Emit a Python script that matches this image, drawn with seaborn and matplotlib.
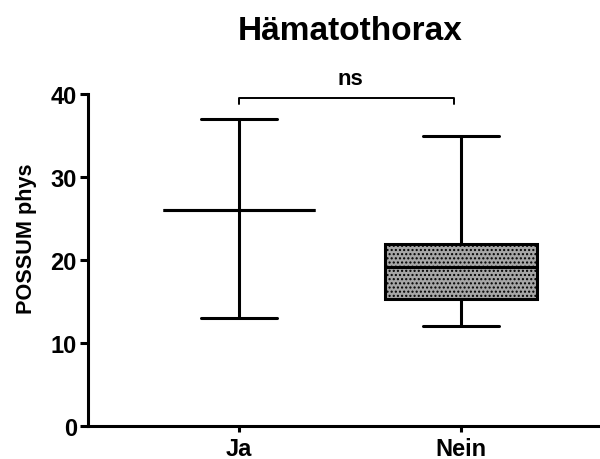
import matplotlib
matplotlib.use("Agg")
import matplotlib.pyplot as plt
import seaborn as sns
import pandas as pd

# five-number summaries (min, Q1, median, Q3, max)
groups = ["Ja", "Nein"]
ja_values = [13, 26, 26, 26, 37]
nein_values = [12, 15.3, 19.2, 21.9, 35]
box_colors = ["white", "#a6a6a6"]
sig_label = "ns"

df = pd.DataFrame({
    "group": ["Ja"] * len(ja_values) + ["Nein"] * len(nein_values),
    "value": ja_values + nein_values,
})

sns.set_style("ticks", {"axes.edgecolor": "black", "text.color": "black",
                        "axes.labelcolor": "black", "xtick.color": "black",
                        "ytick.color": "black"})
plt.rcParams["font.family"] = ["Liberation Sans", "DejaVu Sans"]
plt.rcParams["font.weight"] = "bold"
plt.rcParams["axes.labelweight"] = "bold"
plt.rcParams["axes.titleweight"] = "bold"
plt.rcParams["hatch.linewidth"] = 1.0

fig = plt.figure(figsize=(6, 4.6), dpi=100)
ax = fig.add_axes([0.1467, 0.0717, 0.8503, 0.7213])

sns.boxplot(data=df, x="group", y="value", order=groups, hue="group",
            palette=box_colors, saturation=1, legend=False,
            whis=(0, 100), width=0.685, linecolor="black", linewidth=2.2,
            showfliers=False, ax=ax)

for patch in ax.patches:
    patch.set_edgecolor("black")
    if patch.get_facecolor()[0] < 0.9:
        patch.set_hatch("....")

ax.set_ylim(0, 40)
ax.set_xlim(-0.68, 1.617)
ax.set_yticks([0, 10, 20, 30, 40])
ax.set_xlabel("")
ax.set_ylabel("POSSUM phys", fontsize=15.6)
ax.yaxis.set_label_coords(-0.1, 0.566)
ax.set_title("Hämatothorax", fontsize=24, pad=40, x=0.514)

for side in ["top", "right"]:
    ax.spines[side].set_visible(False)
for side in ["left", "bottom"]:
    ax.spines[side].set_linewidth(2.2)
ax.tick_params(axis="y", length=6, width=2.2, labelsize=17, pad=2)
ax.tick_params(axis="x", length=4, width=2.2, labelsize=17, pad=4)

# significance bracket
ax.plot([0, 0, 0.968, 0.968], [38.8, 39.5, 39.5, 38.8], color="black",
        lw=1.4, clip_on=False)
ax.text(0.5, 41.2, sig_label, ha="center", va="baseline", fontsize=16,
        clip_on=False)

fig.savefig("out.png", dpi=100)
